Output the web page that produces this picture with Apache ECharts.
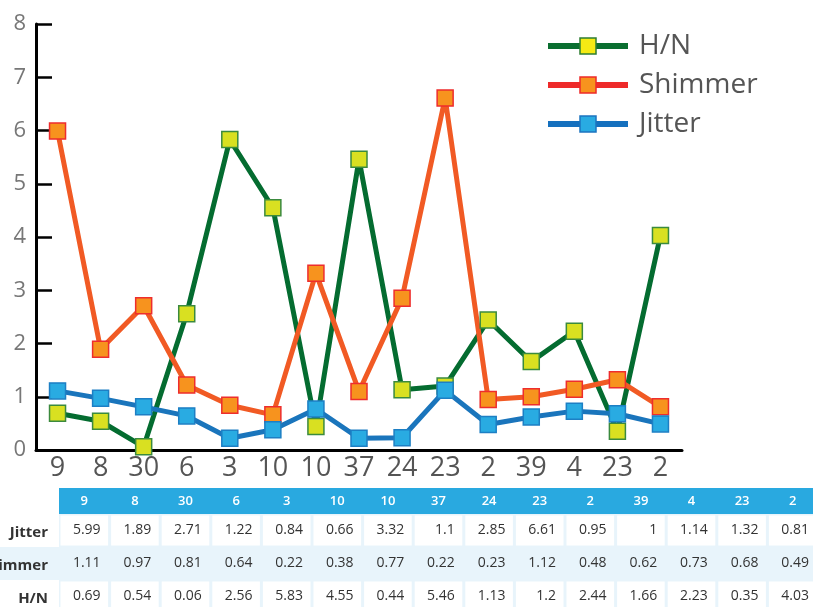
<!DOCTYPE html>
<html><head><meta charset="utf-8">
<script src="https://cdn.jsdelivr.net/npm/echarts@6/dist/echarts.min.js"></script>
<style>html,body{margin:0;padding:0;background:#fff}#c{width:813px;height:607px}</style>
</head><body><div id="c"></div>
<script>
const categories = ['9','8','30','6','3','10','10','37','24','23','2','39','4','23','2'];
const hnValues = [0.69,0.54,0.06,2.56,5.83,4.55,0.44,5.46,1.13,1.2,2.44,1.66,2.23,0.35,4.03];
const shimmerValues = [5.99,1.89,2.71,1.22,0.84,0.66,3.32,1.1,2.85,6.61,0.95,1,1.14,1.32,0.81];
const jitterValues = [1.11,0.97,0.81,0.64,0.22,0.38,0.77,0.22,0.23,1.12,0.48,0.62,0.73,0.68,0.49];
const tableRowLabels = ['Jitter','Shimmer','H/N'];
const tableRows = [shimmerValues, jitterValues, hnValues];

const FONT = '"Open Sans", "Noto Sans", sans-serif';
const chart = echarts.init(document.getElementById('c'), null, {renderer:'canvas'});

// table graphic built from arrays
const tblLeft = 59, colW = 50.6, headTop = 488, headH = 26, rowH = 33;
const elements = [];
elements.push({type:'rect', shape:{x:tblLeft, y:headTop, width:813-tblLeft, height:headH}, style:{fill:'#29a9e0'}});
categories.forEach((c,i)=>{
  elements.push({type:'text', x: tblLeft + colW*i + colW/2, y: headTop + headH/2,
    style:{text:c, fill:'#fff', font:'600 13px ' + FONT, align:'center', verticalAlign:'middle'}});
});
tableRows.forEach((vals, r)=>{
  const top = headTop + headH + rowH*r;
  const shaded = (r === 1);
  if (shaded) {
    elements.push({type:'rect', shape:{x:0, y:top, width:813, height:rowH}, style:{fill:'#e8f4fb'}});
  } else {
    elements.push({type:'rect', shape:{x:tblLeft, y:top, width:813-tblLeft, height:rowH}, style:{fill:'#e8f4fb'}});
    vals.forEach((v,i)=>{
      elements.push({type:'rect', shape:{x:tblLeft + colW*i + 1.5, y: top + 1.5, width: colW - 3, height: rowH - 3}, style:{fill:'#fff'}});
    });
  }
  elements.push({type:'text', x: 48, y: top + rowH/2 + 2,
    style:{text: tableRowLabels[r], fill:'#333', font:'bold 15px ' + FONT, align:'right', verticalAlign:'middle'}});
  vals.forEach((v,i)=>{
    elements.push({type:'text', x: tblLeft + colW*(i+1) - 9, y: top + rowH/2,
      style:{text:String(v), fill:'#333', font:'14px ' + FONT, align:'right', verticalAlign:'middle'}});
  });
});

const mk = (name, data, lineColor, fill, border) => ({
  name, type:'line', data, symbol:'rect', symbolSize:16,
  lineStyle:{color:lineColor, width:5},
  itemStyle:{color:fill, borderColor:border, borderWidth:1.5},
  emphasis:{disabled:true}, animation:false
});

chart.setOption({
  animation:false,
  grid:{left:36, right:131, top:24, bottom:157, containLabel:false},
  legend:{
    orient:'vertical', left:540, top:27, itemWidth:80, itemHeight:20, itemGap:11,
    textStyle:{fontSize:28, color:'#555', fontFamily:FONT, padding:[0,0,0,6]},
    data:[
      {name:'H/N', lineStyle:{color:'#0a6e30', width:6}, itemStyle:{color:'#f5ea14', borderColor:'#2e7d32', borderWidth:1.5}},
      {name:'Shimmer', lineStyle:{color:'#ee2a2a', width:6}, itemStyle:{color:'#f7931e', borderColor:'#ee2a2a', borderWidth:1.5}},
      {name:'Jitter', lineStyle:{color:'#1570be', width:6}, itemStyle:{color:'#29abe2', borderColor:'#1d74c0', borderWidth:1.5}}
    ]
  },
  xAxis:{
    type:'category', data:categories, boundaryGap:true,
    axisLine:{lineStyle:{color:'#000', width:3}},
    axisTick:{inside:true, length:10, lineStyle:{color:'#000', width:2.5}},
    axisLabel:{fontSize:27, color:'#555', fontFamily:FONT, margin:5, interval:0}
  },
  yAxis:{
    type:'value', min:0, max:8, interval:1,
    axisLine:{show:true, lineStyle:{color:'#000', width:3}},
    axisTick:{show:true, inside:true, length:16, lineStyle:{color:'#000', width:2.5}},
    axisLabel:{fontSize:22, color:'#777', fontFamily:FONT, margin:10},
    splitLine:{show:false}
  },
  series:[
    mk('H/N', hnValues, '#046c30', '#d9e021', '#3b8a3e'),
    mk('Shimmer', shimmerValues, '#f15a24', '#f7931e', '#ee2d2d'),
    mk('Jitter', jitterValues, '#1a75bc', '#29abe2', '#1d7fc4')
  ],
  graphic:{elements}
});
</script></body></html>
